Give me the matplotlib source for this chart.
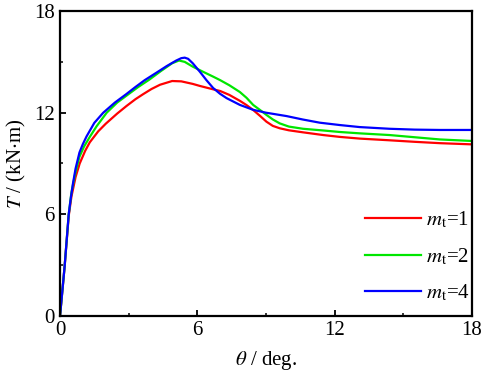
import matplotlib
matplotlib.use("Agg")
import matplotlib.pyplot as plt
from matplotlib.ticker import MultipleLocator

plt.rcParams['font.family'] = ['Liberation Serif', 'DejaVu Serif']
plt.rcParams['mathtext.fontset'] = 'stix'

theta_1 = [0, 0.2, 0.38, 0.5, 0.68, 0.86, 1.1, 1.3, 1.67, 2.0, 2.5, 2.91, 3.3, 3.64, 4.0, 4.37, 4.9, 5.3, 5.8, 6.11, 6.69, 7.0, 7.4, 7.86, 8.15, 8.44, 8.75, 9.02, 9.3, 9.6, 10.0, 10.62, 11.5, 12.23, 13.1, 14.4, 15.5, 16.6, 18.0]
T_1 = [0, 2.9, 5.9, 7.05, 8.2, 9.0, 9.75, 10.25, 10.9, 11.35, 11.95, 12.4, 12.8, 13.1, 13.4, 13.65, 13.87, 13.85, 13.7, 13.58, 13.38, 13.28, 13.05, 12.7, 12.45, 12.16, 11.8, 11.47, 11.22, 11.08, 10.96, 10.84, 10.68, 10.57, 10.47, 10.37, 10.28, 10.2, 10.13]

theta_2 = [0, 0.2, 0.38, 0.5, 0.68, 0.85, 1.05, 1.31, 1.6, 2.04, 2.5, 3.0, 3.4, 3.9, 4.4, 4.9, 5.2, 5.45, 5.8, 6.2, 6.69, 7.0, 7.4, 7.86, 8.15, 8.44, 8.75, 9.02, 9.3, 9.6, 10.0, 10.62, 11.5, 12.23, 13.1, 14.4, 15.5, 16.6, 18.0]
T_2 = [0, 2.9, 6.0, 7.3, 8.5, 9.4, 10.0, 10.59, 11.2, 12.0, 12.6, 13.1, 13.5, 13.95, 14.45, 14.92, 15.08, 15.0, 14.72, 14.45, 14.13, 13.92, 13.62, 13.22, 12.88, 12.46, 12.15, 11.87, 11.6, 11.37, 11.18, 11.05, 10.95, 10.86, 10.78, 10.68, 10.55, 10.42, 10.33]

theta_4 = [0, 0.2, 0.38, 0.47, 0.57, 0.68, 0.85, 1.0, 1.16, 1.5, 1.89, 2.4, 2.9, 3.28, 3.7, 4.2, 4.66, 5.08, 5.3, 5.45, 5.6, 5.8, 6.11, 6.4, 6.69, 6.99, 7.28, 7.86, 8.44, 9.0, 9.9, 10.6, 11.35, 12.23, 13.1, 14.4, 15.5, 16.6, 18.0]
T_4 = [0, 2.9, 6.0, 6.95, 7.85, 8.7, 9.65, 10.15, 10.6, 11.4, 12.0, 12.6, 13.1, 13.5, 13.92, 14.35, 14.75, 15.08, 15.22, 15.25, 15.18, 14.92, 14.42, 13.92, 13.46, 13.12, 12.86, 12.46, 12.17, 12.0, 11.8, 11.6, 11.41, 11.27, 11.15, 11.05, 11.0, 10.98, 10.98]

series = [
    (theta_1, T_1, '#ff0000', r'$m_{\mathrm{t}}$=1'),
    (theta_2, T_2, '#00e600', r'$m_{\mathrm{t}}$=2'),
    (theta_4, T_4, '#0000ff', r'$m_{\mathrm{t}}$=4'),
]

x_ticks = [0, 6, 12, 18]
y_ticks = [0, 6, 12, 18]

fig = plt.figure(figsize=(4.84, 3.82), dpi=100)
ax = fig.add_axes([0.124, 0.173, 0.851, 0.798])

for x, y, c, lab in series:
    ax.plot(x, y, color=c, lw=1.6, label=lab, solid_joinstyle='round')

ax.set_xlim(0, 18)
ax.set_ylim(0, 18)
ax.set_xticks(x_ticks)
ax.set_yticks(y_ticks)
ax.xaxis.set_minor_locator(MultipleLocator(3))
ax.yaxis.set_minor_locator(MultipleLocator(3))
ax.tick_params(which='major', direction='in', length=4, width=1.3, labelsize=15, pad=4)
ax.tick_params(which='minor', direction='in', length=2.5, width=1.1)
for s in ax.spines.values():
    s.set_linewidth(1.6)

ax.set_xlabel(r'$\theta$ / deg.', fontsize=15, labelpad=6)
ax.set_ylabel(r'$T$ / (kN$\cdot$m)', fontsize=15, labelpad=4)

leg = ax.legend(loc='lower right', frameon=False, fontsize=15, handlelength=2.65,
                handletextpad=0.25, labelspacing=0.75, borderaxespad=0.4,
                bbox_to_anchor=(1.035, -0.013))

fig.savefig('out.png', dpi=100)
